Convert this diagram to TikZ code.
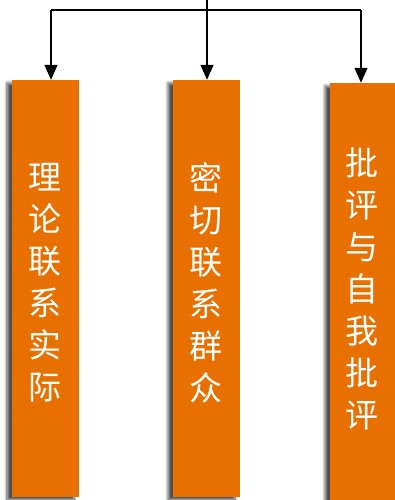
\documentclass[tikz,border=0pt]{standalone}
\usepackage{fontspec}
\newfontfamily\cjk{Noto Sans CJK SC}
\usetikzlibrary{arrows.meta,shadows.blur}
\definecolor{boxorange}{RGB}{232,112,0}
\tikzset{
  colbox/.style={fill=boxorange, draw=none, minimum width=67pt, inner sep=0pt,
    blur shadow={shadow xshift=-5pt, shadow yshift=-3pt, shadow blur steps=6, shadow blur radius=3pt, shadow opacity=70}},
  coltext/.style={text=white, align=center, inner sep=0pt, font=\cjk\fontsize{33}{42}\selectfont},
  link/.style={line width=1.4pt, black},
  arr/.style={link, -{Triangle[width=13pt,length=15pt]}}
}
\begin{document}
\begin{tikzpicture}[x=1pt,y=-1pt]
\useasboundingbox (0,0) rectangle (395,500);
\clip (0,0) rectangle (395,500);
\node[colbox, minimum height=417pt] (b1) at (45.5,288.5) {};
\node[colbox, minimum height=417pt] (b2) at (206.5,288.5) {};
\node[colbox, minimum height=420pt] (b3) at (363.5,293) {};
\node[coltext] (t1) at (45,283) {理\\论\\联\\系\\实\\际};
\node[coltext] (t2) at (206,283) {密\\切\\联\\系\\群\\众};
\node[coltext] (t3) at (362,289) {批\\评\\与\\自\\我\\批\\评};
\coordinate (top) at (207,0);
\coordinate (jm) at (207,10);
\coordinate (jl) at (51,10);
\coordinate (jr) at (361,10);
\draw[link] (top) -- (jm);
\draw[link] (jl) -- (jr);
\draw[arr] (jl) -- (jl |- b1.north);
\draw[arr] (jm) -- (jm |- b2.north);
\draw[arr] (jr) -- (jr |- b3.north);
\end{tikzpicture}
\end{document}
